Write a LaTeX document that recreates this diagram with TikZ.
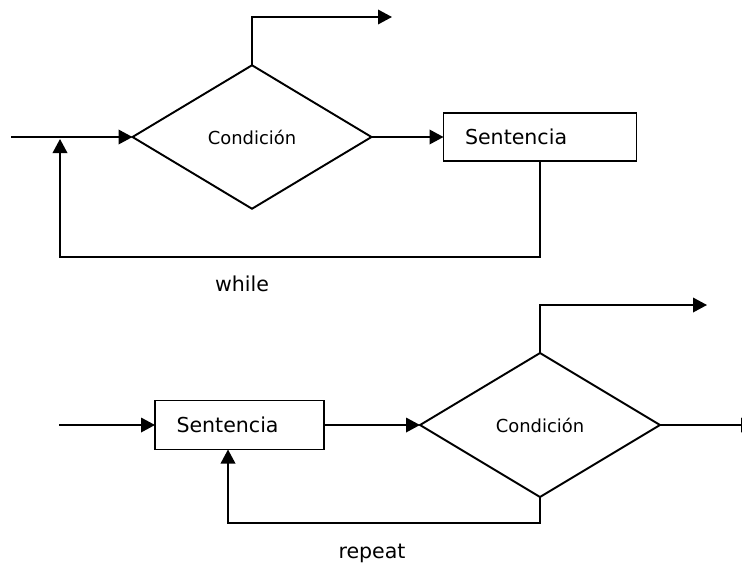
\documentclass[tikz,border=0pt]{standalone}
\usepackage{fontspec}
\setmainfont{DejaVu Sans}
\usepackage{tikz}
\usetikzlibrary{arrows.meta,calc,positioning,shapes.geometric}
\tikzset{
  stmt/.style={draw, line width=1.1pt, outer sep=0pt, minimum height=0.96cm, inner xsep=0.43cm, align=left, font=\fontsize{11.7}{14}\selectfont},
  cond/.style={draw, diamond, line width=1.1pt, outer sep=0pt, inner sep=0pt, minimum width=4.78cm, minimum height=2.87cm, align=center, font=\fontsize{10.2}{12}\selectfont},
  caption/.style={inner sep=0pt, font=\fontsize{11.7}{14}\selectfont},
  flow/.style={-{Triangle[length=2.8mm, width=2.9mm]}, line width=1.1pt},
  line/.style={line width=1.1pt}
}

\begin{document}
\begin{tikzpicture}[x=0.02cm,y=-0.02cm]
  \useasboundingbox (0,0) rectangle (742,565);

  % while
  \node[cond] (cond1) at (252,137) {Condición};
  \node[stmt, text width=3.0cm] (sent1) at (540,137) {Sentencia};
  \coordinate (in1) at (11,137);
  \coordinate (out1) at (392,17);
  \coordinate (join1) at (60,139);
  \node[caption] (while) at (242,284) {while};

  \draw[flow] (in1) -- (cond1.west);
  \draw[flow] (cond1.north) |- (out1);
  \draw[flow] (cond1.east) -- (sent1.west);
  \draw[flow] (sent1.south) -- ++(0,96) -| (join1);

  % repeat
  \node[stmt, text width=2.52cm, minimum height=0.98cm] (sent2) at (239.5,425) {Sentencia};
  \node[cond, minimum width=4.8cm, minimum height=2.88cm] (cond2) at (540,425) {Condición};
  \coordinate (in2) at (59,425);
  \coordinate (out2) at (707,305);
  \coordinate (end2) at (755,425);
  \node[caption] (repeat) at (372,553) {repeat};

  \draw[flow] (in2) -- (sent2.west);
  \draw[flow] (sent2.east) -- (cond2.west);
  \draw[flow] (cond2.north) |- (out2);
  \draw[flow] (cond2.east) -- (end2);
  \draw[flow] (cond2.south) -- ++(0,26) -| ([xshift=-0.23cm]sent2.south);
\end{tikzpicture}
\end{document}
